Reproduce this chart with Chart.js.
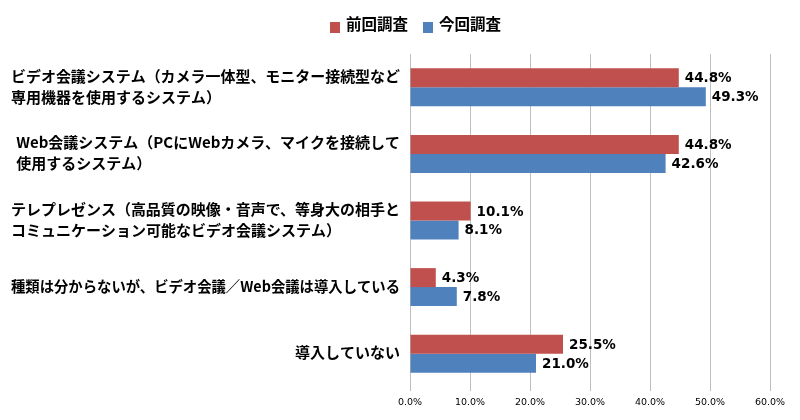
<!DOCTYPE html>
<html>
<head>
<meta charset="utf-8">
<script src="https://cdn.jsdelivr.net/npm/chart.js@4/dist/chart.umd.min.js"></script>
<style>
	html, body { margin: 0; padding: 0; background: #fff; }
	#wrap { width: 800px; height: 420px; }
</style>
</head>
<body>
<div id="wrap"><canvas id="BarChart" width="800" height="420"></canvas></div>
<script>
const categories = [
	["ビデオ会議システム（カメラ一体型、モニター接続型など", "専用機器を使用するシステム）"],
	["Web会議システム（PCにWebカメラ、マイクを接続して", "使用するシステム）"],
	["テレプレゼンス（高品質の映像・音声で、等身大の相手と", "コミュニケーション可能なビデオ会議システム）"],
	"種類は分からないが、ビデオ会議／Web会議は導入している",
	"導入していない",
]
const seriesNames = ["前回調査", "今回調査"]
const previous = [44.8, 44.8, 10.1, 4.3, 25.5]
const current = [49.3, 42.6, 8.1, 7.8, 21.0]
const xTicks = [0, 10, 20, 30, 40, 50, 60]

const RED = "#C0504D"
const BLUE = "#4F81BD"

// value labels at the end of each bar
const valueLabels = {
	id: "valueLabels",
	afterDatasetsDraw(chart) {
		const ctx = chart.ctx
		ctx.save()
		ctx.font = "bold 13.5px 'DejaVu Sans'"
		ctx.fillStyle = "#000"
		ctx.textAlign = "left"
		ctx.textBaseline = "middle"
		chart.data.datasets.forEach((ds, i) => {
			chart.getDatasetMeta(i).data.forEach((bar, j) => {
				ctx.fillText(ds.data[j].toFixed(1) + "%", bar.x + 6, bar.y + 1)
			})
		})
		ctx.restore()
	},
}

// category labels: block right-aligned to the axis, lines left-aligned inside it
const categoryLabels = {
	id: "categoryLabels",
	afterDraw(chart) {
		const ctx = chart.ctx
		const yScale = chart.scales.y
		const right = yScale.right - 10
		const maxW = 389
		ctx.save()
		ctx.font = "bold 15px 'Noto Sans CJK JP'"
		ctx.fillStyle = "#000"
		ctx.textAlign = "left"
		ctx.textBaseline = "middle"
		chart.data.labels.forEach((label, i) => {
			const lines = Array.isArray(label) ? label : [label]
			const w = Math.min(maxW, Math.max(...lines.map((l) => ctx.measureText(l).width)))
			const left = right - w
			const yc = yScale.getPixelForValue(i)
			const lh = 21
			const top = yc - ((lines.length - 1) * lh) / 2
			lines.forEach((l, k) => ctx.fillText(l, left, top + k * lh - 1, maxW))
		})
		ctx.restore()
	},
}

// legend drawn by hand so it sits where the original has it
const topLegend = {
	id: "topLegend",
	afterDraw(chart) {
		const ctx = chart.ctx
		ctx.save()
		ctx.font = "bold 15.5px 'Noto Sans CJK JP'"
		ctx.textBaseline = "middle"
		ctx.textAlign = "left"
		let x = 330
		const y = 27
		chart.data.datasets.forEach((ds) => {
			ctx.fillStyle = ds.backgroundColor
			ctx.fillRect(x, y - 5, 10, 11)
			ctx.fillStyle = "#000"
			ctx.fillText(ds.label, x + 16, y - 3)
			x += 16 + ctx.measureText(ds.label).width + 15
		})
		ctx.restore()
	},
}

const ctx = document.getElementById("BarChart").getContext("2d")
new Chart(ctx, {
	type: "bar",
	data: {
		labels: categories,
		datasets: [
			{ label: seriesNames[0], data: previous, backgroundColor: RED },
			{ label: seriesNames[1], data: current, backgroundColor: BLUE },
		],
	},
	options: {
		indexAxis: "y",
		responsive: false,
		animation: false,
		devicePixelRatio: 1,
		layout: { padding: { top: 54, right: 30, left: 0, bottom: 0 } },
		datasets: { bar: { categoryPercentage: 0.57, barPercentage: 1 } },
		plugins: {
			legend: { display: false },
			tooltip: { enabled: false },
		},
		scales: {
			x: {
				min: 0,
				max: 60,
				afterBuildTicks: (axis) => {
					axis.ticks = xTicks.map((v) => ({ value: v }))
				},
				afterFit: (axis) => {
					axis.height = 33
				},
				ticks: {
					callback: (v) => v.toFixed(1) + "%",
					font: { family: "'DejaVu Sans'", size: 9.5 },
					color: "#000",
					padding: 6,
					maxRotation: 0,
				},
				grid: { color: "#BFBFBF", tickLength: 4 },
				border: { display: false },
			},
			y: {
				afterFit: (axis) => {
					axis.width = 410
				},
				ticks: { display: false },
				grid: { display: false },
				border: { display: false },
			},
		},
	},
	plugins: [valueLabels, categoryLabels, topLegend],
})
</script>
</body>
</html>
